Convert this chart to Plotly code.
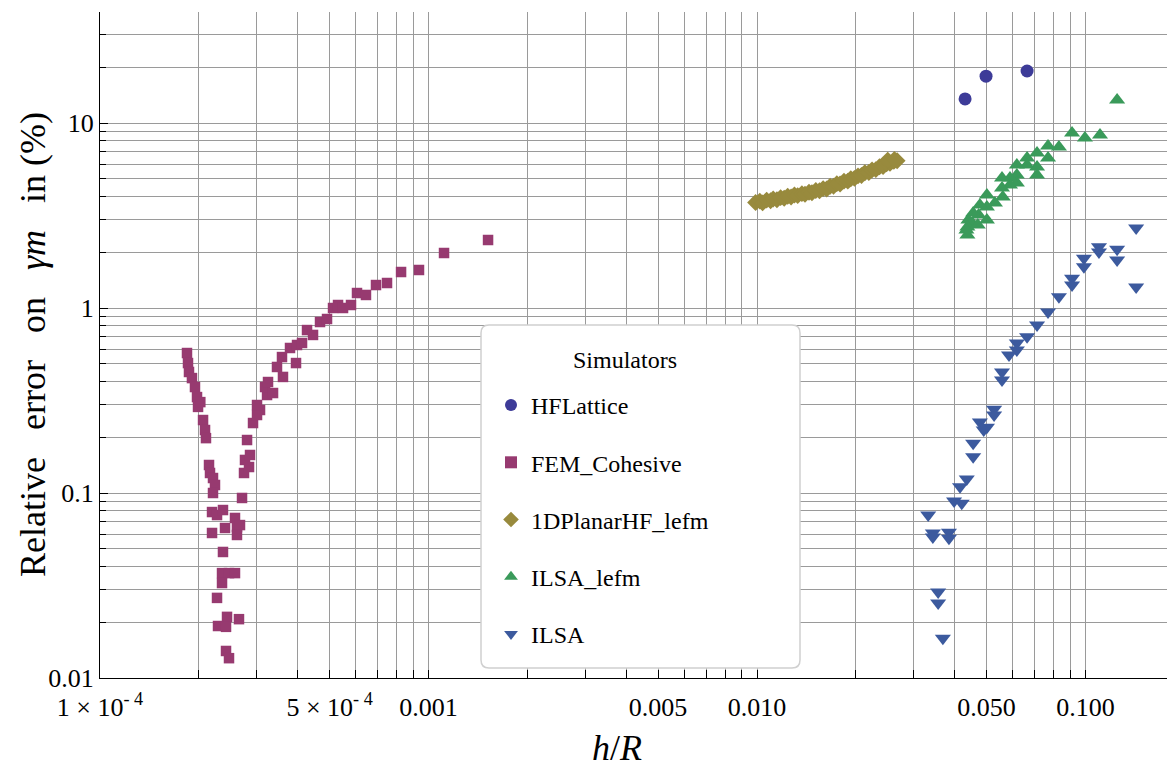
import plotly.graph_objects as go

# ---------------- data ----------------
hflattice_x = [0.0430, 0.0498, 0.0664]
hflattice_y = [13.5, 17.9, 19.1]

fem_x = [1.840e-4, 1.853e-4, 1.866e-4, 1.905e-4, 1.946e-4, 1.974e-4, 1.988e-4, 2.020e-4,
         2.059e-4, 2.088e-4, 2.102e-4, 2.147e-4, 2.162e-4, 2.208e-4, 2.239e-4, 2.208e-4,
         2.193e-4, 2.271e-4, 2.368e-4, 2.193e-4, 2.402e-4, 2.576e-4, 2.612e-4, 2.668e-4,
         2.612e-4, 2.368e-4, 2.352e-4, 2.470e-4, 2.576e-4, 2.352e-4, 2.271e-4, 2.436e-4,
         2.649e-4, 2.287e-4, 2.419e-4, 2.419e-4, 2.470e-4,
         2.706e-4, 2.744e-4, 2.842e-4, 2.763e-4, 2.862e-4, 2.803e-4, 2.923e-4, 3.006e-4,
         3.070e-4, 3.006e-4, 3.225e-4, 3.180e-4, 3.247e-4, 3.363e-4, 3.458e-4, 3.581e-4,
         3.606e-4, 3.788e-4, 3.951e-4, 3.979e-4, 4.121e-4, 4.268e-4, 4.451e-4, 4.675e-4,
         4.910e-4, 5.121e-4, 5.304e-4, 5.493e-4, 5.809e-4, 6.058e-4, 6.452e-4, 6.921e-4,
         7.477e-4, 8.250e-4, 9.356e-4, 1.115e-3, 1.518e-3]
fem_y = [0.571, 0.504, 0.451, 0.418, 0.374, 0.330, 0.292, 0.310,
         0.248, 0.219, 0.198, 0.1417, 0.1283, 0.1205, 0.1105, 0.100,
         0.0789, 0.0760, 0.0809, 0.0608, 0.0647, 0.0733, 0.0655, 0.0671,
         0.0593, 0.0480, 0.0369, 0.0369, 0.0369, 0.0326, 0.0271, 0.0214,
         0.0208, 0.0191, 0.0189, 0.0140, 0.0128,
         0.0940, 0.1283, 0.1382, 0.1509, 0.1605, 0.1934, 0.2389, 0.2640,
         0.2810, 0.2990, 0.3386, 0.374, 0.398, 0.3471, 0.480, 0.543,
         0.424, 0.608, 0.504, 0.631, 0.647, 0.760, 0.715, 0.840,
         0.872, 1.000, 1.038, 1.000, 1.038, 1.205, 1.176, 1.331,
         1.365, 1.565, 1.605, 1.983, 2.331]

planar_x = [0.0099, 0.0102, 0.0104, 0.0107, 0.0110, 0.0112, 0.0115, 0.0118, 0.0121, 0.0124,
            0.0127, 0.0130, 0.0133, 0.0137, 0.0140, 0.0144, 0.0147, 0.0151, 0.0155, 0.0159,
            0.0163, 0.0167, 0.0171, 0.0175, 0.0179, 0.0184, 0.0189, 0.0193, 0.0198, 0.0203,
            0.0208, 0.0213, 0.0219, 0.0224, 0.0230, 0.0236, 0.0242, 0.0248, 0.0254, 0.0261,
            0.0267, 0.0250, 0.0262]
planar_y = [3.72, 3.78, 3.70, 3.83, 3.80, 3.88, 3.85, 3.95, 3.92, 4.02,
            3.98, 4.08, 4.05, 4.15, 4.12, 4.22, 4.20, 4.32, 4.30, 4.42,
            4.40, 4.55, 4.55, 4.70, 4.68, 4.85, 4.85, 5.00, 5.02, 5.18,
            5.20, 5.38, 5.40, 5.58, 5.60, 5.80, 5.82, 6.02, 6.05, 6.20,
            6.25, 6.30, 6.35]

ilsa_lefm_x = [0.1248, 0.0910, 0.0996, 0.1107, 0.0830, 0.0769, 0.0769, 0.0712, 0.0712, 0.0712,
               0.0664, 0.0664, 0.0618, 0.0618, 0.0618, 0.0589, 0.0589, 0.0557, 0.0557, 0.0560,
               0.0530, 0.0501, 0.0501, 0.0501, 0.0477, 0.0473, 0.0455, 0.0452, 0.0440, 0.0437,
               0.0437, 0.0434, 0.0470]
ilsa_lefm_y = [13.3, 8.83, 8.3, 8.6, 7.42, 7.5, 6.47, 6.88, 5.78, 5.24,
               6.47, 5.93, 5.93, 5.24, 4.74, 5.04, 4.62, 5.04, 4.45, 3.98,
               3.69, 4.08, 3.52, 2.99, 3.6, 3.18, 3.26, 2.88, 2.99, 2.74,
               2.48, 2.64, 2.81]

ilsa_x = [0.1426, 0.1426, 0.1099, 0.1099, 0.1248, 0.1248, 0.0989, 0.0989, 0.0910, 0.0910,
          0.0830, 0.0769, 0.0712, 0.0664, 0.0618, 0.0618, 0.0585, 0.0557, 0.0557, 0.0527,
          0.0527, 0.0477, 0.0501, 0.0490, 0.0455, 0.0455, 0.0435, 0.0415, 0.0398, 0.0420,
          0.0332, 0.0343, 0.0343, 0.0384, 0.0384, 0.0356, 0.0356, 0.0368]
ilsa_y = [2.71, 1.30, 2.14, 2.01, 2.08, 1.82, 1.86, 1.67, 1.45, 1.33,
          1.15, 0.95, 0.81, 0.70, 0.647, 0.593, 0.557, 0.451, 0.408, 0.284,
          0.264, 0.242, 0.227, 0.219, 0.186, 0.157, 0.119, 0.108, 0.0905, 0.088,
          0.0760, 0.0608, 0.0578, 0.0614, 0.057, 0.0292, 0.0254, 0.0164]

series_names = ["HFLattice", "FEM_Cohesive", "1DPlanarHF_lefm", "ILSA_lefm", "ILSA"]
legend_title = "Simulators"

x_tick_vals = [1e-4, 5e-4, 1e-3, 5e-3, 1e-2, 5e-2, 1e-1]
x_tick_text = ["1 × 10<sup>- 4</sup>", "5 × 10<sup>- 4</sup>", "0.001", "0.005",
               "0.010", "0.050", "0.100"]
y_tick_vals = [0.01, 0.1, 1, 10]
y_tick_text = ["0.01", "0.1", "1", "10"]

# ---------------- styling ----------------
FONT = "Times New Roman, Liberation Serif, DejaVu Serif, serif"
OFF = 8                      # page body margin
W, H = 1175 - OFF, 770 - OFF
ML, MR, MT, MB = 92, 0, 4, 92
PW, PH = W - ML - MR, H - MT - MB

def px_to_paper(px, py):
    """page pixel -> paper coordinates"""
    return (px - OFF - ML) / PW, (H - MB - (py - OFF)) / PH

minor_x = [m * 10 ** k for k in range(-4, 0) for m in range(1, 10)]
minor_y = [m * 10 ** k for k in range(-2, 2) for m in range(1, 10)]

colors = ["#3d3b98", "#973a70", "#988a3d", "#3a9a5a", "#3c5a9e"]
symbols = ["circle", "square", "diamond", "triangle-up", "triangle-down"]
sizes = [13, 10.5, 13, 14, 14]
xs = [hflattice_x, fem_x, planar_x, ilsa_lefm_x, ilsa_x]
ys = [hflattice_y, fem_y, planar_y, ilsa_lefm_y, ilsa_y]

fig = go.Figure()
for i in range(5):
    fig.add_trace(go.Scatter(
        x=xs[i], y=ys[i], mode="markers", name=series_names[i],
        legendgroup=series_names[i],
        marker=dict(symbol=symbols[i], size=sizes[i], color=colors[i], line=dict(width=0)),
    ))

GRID = "#9a9a9a"
fig.update_xaxes(
    type="log", range=[-4, -4 + PW / 328.5], automargin=False,
    tickmode="array", tickvals=x_tick_vals, ticktext=x_tick_text,
    ticks="inside", ticklen=8, tickcolor="black", tickwidth=1,
    ticklabelstandoff=6,
    showgrid=True, gridcolor=GRID, gridwidth=1,
    minor=dict(tickmode="array", tickvals=minor_x, ticks="inside", ticklen=8,
               tickcolor="black", showgrid=True, gridcolor=GRID, gridwidth=1),
    showline=True, linecolor="black", linewidth=1.3,
    tickfont=dict(family=FONT, size=26, color="black"),
    zeroline=False,
)
fig.update_yaxes(
    type="log", range=[-2, -2 + PH / 185.0], automargin=False,
    tickmode="array", tickvals=y_tick_vals, ticktext=y_tick_text,
    ticks="inside", ticklen=8, tickcolor="black", tickwidth=1,
    showgrid=True, gridcolor=GRID, gridwidth=1,
    minor=dict(tickmode="array", tickvals=minor_y, ticks="inside", ticklen=6,
               tickcolor="black", showgrid=True, gridcolor=GRID, gridwidth=1),
    showline=True, linecolor="black", linewidth=1.3,
    tickfont=dict(family=FONT, size=26, color="black"),
    zeroline=False,
)

# legend frame (rounded box)
bx0, by0 = px_to_paper(481, 668)
bx1, by1 = px_to_paper(800, 325)
r = 8
rx, ry = r / PW, r / PH
path = (f"M {bx0+rx},{by0} L {bx1-rx},{by0} Q {bx1},{by0} {bx1},{by0+ry} "
        f"L {bx1},{by1-ry} Q {bx1},{by1} {bx1-rx},{by1} L {bx0+rx},{by1} "
        f"Q {bx0},{by1} {bx0},{by1-ry} L {bx0},{by0+ry} Q {bx0},{by0} {bx0+rx},{by0} Z")
fig.add_shape(type="path", path=path, xref="paper", yref="paper",
              fillcolor="white", line=dict(color="#d0d0d0", width=1.5), layer="above")

lx, ly = px_to_paper(491, 383)
fig.update_layout(
    width=W, height=H,
    margin=dict(l=ML, r=MR, t=MT, b=MB, autoexpand=False),
    paper_bgcolor="white", plot_bgcolor="white",
    font=dict(family=FONT, color="black"),
    showlegend=True,
    legend=dict(
        x=lx, y=ly, xanchor="left", yanchor="top",
        bgcolor="rgba(0,0,0,0)", borderwidth=0,
        font=dict(family=FONT, size=24, color="black"),
        tracegroupgap=23, itemsizing="constant",
    ),
)

# legend title
stx, sty = px_to_paper(625, 360)
fig.add_annotation(text=legend_title, x=stx, y=sty, xref="paper", yref="paper",
                   showarrow=False, font=dict(family=FONT, size=24, color="black"),
                   xanchor="center", yanchor="middle")

ax, ay = px_to_paper(617, 748)
fig.add_annotation(text="<i>h</i>/<i>R</i>", x=ax, y=ay, xref="paper", yref="paper",
                   showarrow=False, font=dict(family=FONT, size=36, color="black"),
                   xanchor="center", yanchor="middle")
tx, ty = px_to_paper(33, 345)
gap = "\u00a0" * 3
fig.add_annotation(text=f"Relative{gap}error{gap}on{gap}<i>γm</i>{gap}in (%)",
                   x=tx, y=ty, xref="paper", yref="paper", textangle=-90,
                   showarrow=False, font=dict(family=FONT, size=36, color="black"),
                   xanchor="center", yanchor="middle")

fig.write_html("out.html")
